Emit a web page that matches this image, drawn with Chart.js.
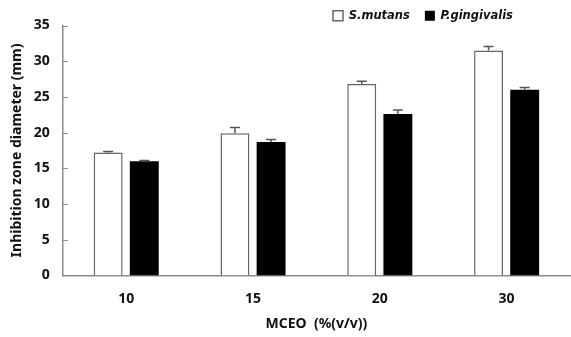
<!DOCTYPE html>
<html>
<head>
<meta charset="utf-8">
<script src="https://cdn.jsdelivr.net/npm/chart.js@4/dist/chart.umd.min.js"></script>
<style>
  html, body { margin: 0; padding: 0; background: #fff; }
  #wrap { width: 571px; height: 337px; }
</style>
</head>
<body>
<div id="wrap"><canvas id="chart"></canvas></div>
<script>
const concentrations = ['10', '15', '20', '30'];
const sMutans = [17.2, 19.9, 26.8, 31.5];
const sMutansErr = [0.15, 0.8, 0.4, 0.55];
const pGingivalis = [16.0, 18.7, 22.6, 26.0];
const pGingivalisErr = [0.1, 0.35, 0.55, 0.3];
const yTicks = [0, 5, 10, 15, 20, 25, 30, 35];

const FONT = "'Noto Sans', 'DejaVu Sans', sans-serif";
const AXIS_GREY = '#8a8a8a';

// error bars (upper half only) drawn on top of each bar
const errorBars = {
    id: 'errorBars',
    afterDatasetsDraw(chart) {
        const ctx = chart.ctx;
        const yScale = chart.scales.y;
        chart.data.datasets.forEach((ds, di) => {
            const meta = chart.getDatasetMeta(di);
            meta.data.forEach((bar, i) => {
                const top = yScale.getPixelForValue(ds.data[i] + ds.errors[i]);
                ctx.save();
                ctx.strokeStyle = '#555';
                ctx.lineWidth = 1.5;
                ctx.beginPath();
                ctx.moveTo(bar.x, bar.y);
                ctx.lineTo(bar.x, top);
                ctx.moveTo(bar.x - 5, top);
                ctx.lineTo(bar.x + 5, top);
                ctx.stroke();
                ctx.restore();
            });
        });
    }
};

// short tick marks pointing into the plot on the y axis
const innerTicks = {
    id: 'innerTicks',
    afterDraw(chart) {
        const ctx = chart.ctx;
        const yScale = chart.scales.y;
        const x0 = chart.chartArea.left;
        ctx.save();
        ctx.strokeStyle = AXIS_GREY;
        ctx.lineWidth = 1;
        yScale.ticks.forEach(t => {
            const y = Math.round(yScale.getPixelForValue(t.value)) + 0.5;
            ctx.beginPath();
            ctx.moveTo(x0, y);
            ctx.lineTo(x0 + 5, y);
            ctx.stroke();
        });
        ctx.restore();
    }
};

// shift the legend into place above the last groups
const legendPlace = {
    id: 'legendPlace',
    afterLayout(chart) {
        chart.legend.left = 318;
        chart.legend.top = -5;
    }
};

new Chart(document.getElementById('chart'), {
    type: 'bar',
    data: {
        labels: concentrations,
        datasets: [
            {
                label: 'S.mutans',
                data: sMutans,
                errors: sMutansErr,
                backgroundColor: '#ffffff',
                borderColor: '#666666',
                borderWidth: 1.5,
                categoryPercentage: 0.57,
                barPercentage: 0.8
            },
            {
                label: 'P.gingivalis',
                data: pGingivalis,
                errors: pGingivalisErr,
                backgroundColor: '#000000',
                borderColor: '#000000',
                borderWidth: 0,
                categoryPercentage: 0.57,
                barPercentage: 0.8
            }
        ]
    },
    options: {
        responsive: true,
        maintainAspectRatio: false,
        animation: false,
        layout: { padding: { left: 4, right: 1, top: -11, bottom: 5 } },
        scales: {
            x: {
                grid: { display: false, drawTicks: false },
                border: { display: true, color: AXIS_GREY, width: 1.5 },
                ticks: { color: '#111', padding: 15, font: { family: FONT, size: 14, weight: 'bold' } },
                title: {
                    display: true,
                    text: 'MCEO  (%(v/v))',
                    color: '#111',
                    padding: { top: -7, bottom: 0 },
                    font: { family: FONT, size: 14, weight: 'bold' }
                }
            },
            y: {
                min: 0,
                max: 35,
                afterBuildTicks(scale) {
                    scale.ticks = yTicks.map(v => ({ value: v }));
                },
                grid: { display: false, drawTicks: false },
                border: { display: true, color: AXIS_GREY, width: 1.5 },
                ticks: { color: '#111', padding: 13, font: { family: FONT, size: 14, weight: 'bold' } },
                title: {
                    display: true,
                    text: 'Inhibition zone diameter (mm)',
                    color: '#111',
                    padding: { top: 5, bottom: -5 },
                    font: { family: FONT, size: 14, weight: 'bold' }
                }
            }
        },
        plugins: {
            legend: {
                position: 'top',
                align: 'start',
                labels: {
                    color: '#111',
                    boxWidth: 10,
                    boxHeight: 10,
                    padding: 15,
                    font: { family: "'DejaVu Sans', sans-serif", size: 11.5, weight: 'bold', style: 'italic' }
                }
            },
            tooltip: { enabled: false }
        }
    },
    plugins: [errorBars, innerTicks, legendPlace]
});
</script>
</body>
</html>
